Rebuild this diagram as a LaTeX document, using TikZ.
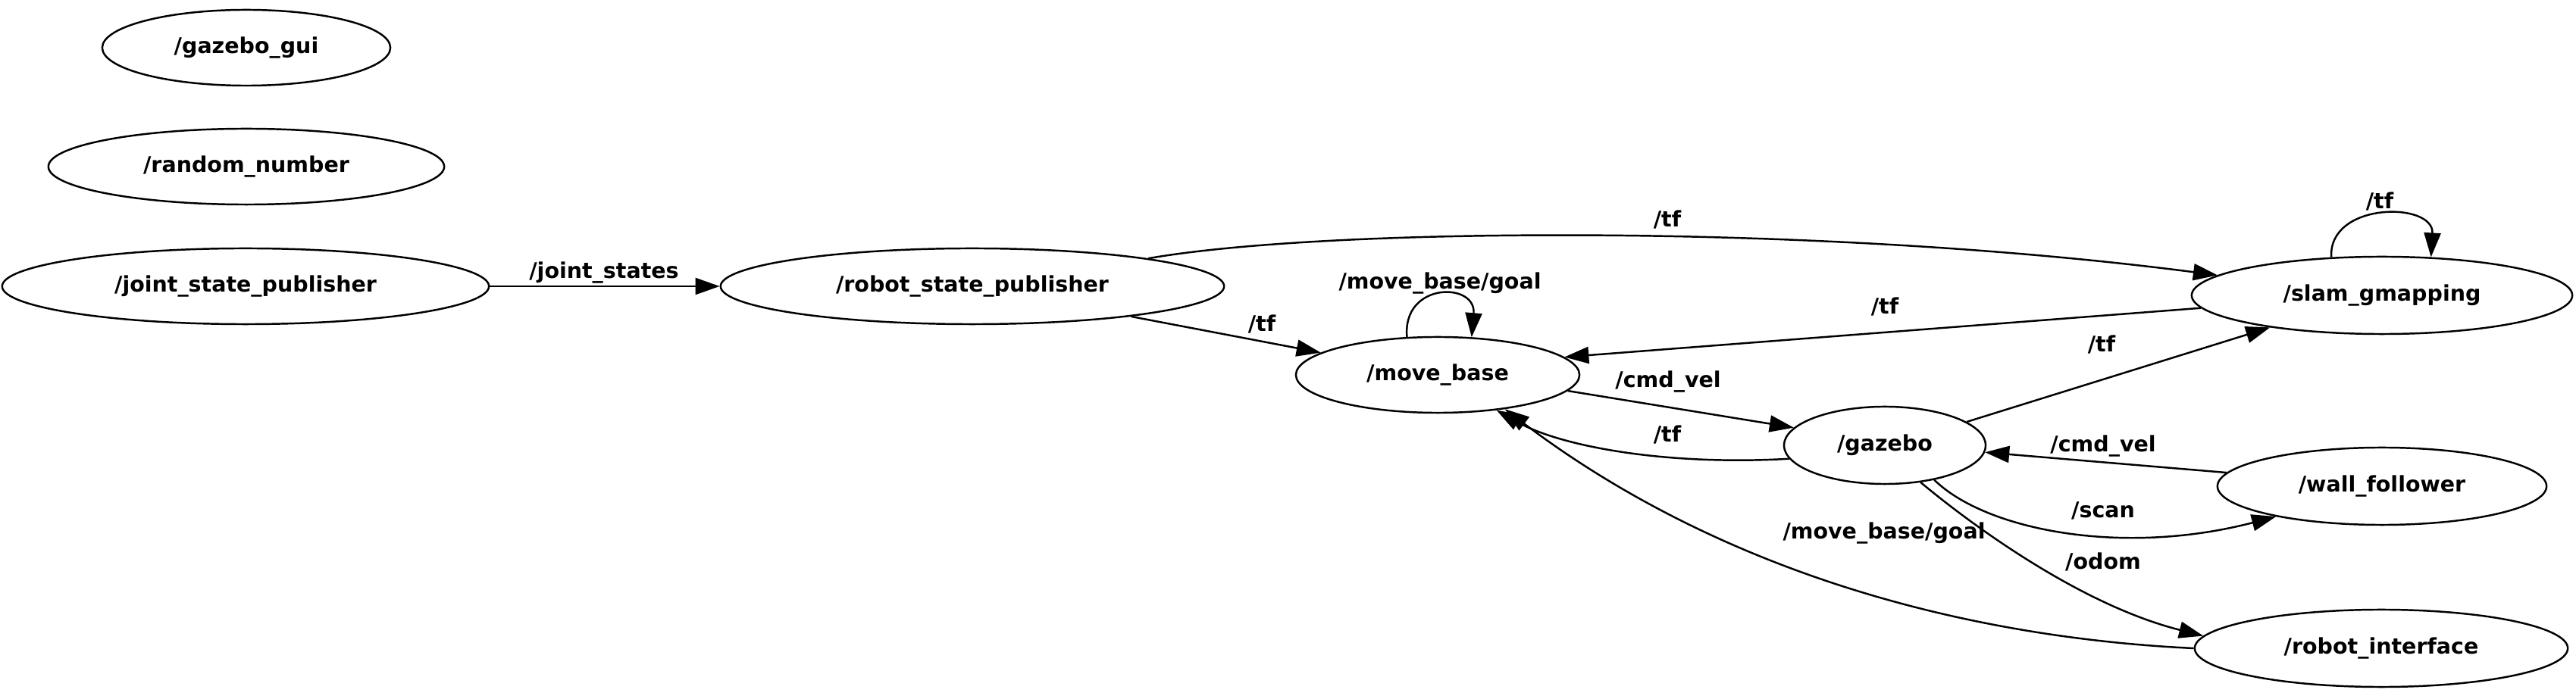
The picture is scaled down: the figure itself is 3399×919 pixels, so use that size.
\documentclass[tikz,border=0pt]{standalone}
\usepackage{fontspec}
\setmainfont{DejaVu Sans}
\usetikzlibrary{shapes.geometric,arrows.meta}
\begin{document}
\begin{tikzpicture}[x=0.01cm,y=-0.01cm,
  txt/.style={font=\fontsize{8.1pt}{9.7pt}\selectfont\bfseries},
  nd/.style={txt,draw,ellipse,inner sep=0pt,line width=0.7pt,minimum height=1.0cm},
  lbl/.style={txt,inner sep=0pt,anchor=base},
  conn/.style={line width=0.7pt,-{Triangle[length=0.32cm,width=0.22cm]}}]
\useasboundingbox (0,0) rectangle (3399,919);
% nodes
\node[nd,minimum width=3.80cm] (gui)  at (325,63)   {/gazebo\_gui};
\node[nd,minimum width=5.22cm] (rnd)  at (325,220)  {/random\_number};
\node[nd,minimum width=6.42cm] (jsp)  at (324,378)  {/joint\_state\_publisher};
\node[nd,minimum width=6.64cm] (rsp)  at (1283,378) {/robot\_state\_publisher};
\node[nd,minimum width=3.74cm] (mb)   at (1897,495) {/move\_base};
\node[nd,minimum width=5.02cm,minimum height=1.02cm] (slam) at (3143,390) {/slam\_gmapping};
\node[nd,minimum width=2.66cm,minimum height=1.02cm] (gaz)  at (2487,588) {/gazebo};
\node[nd,minimum width=4.34cm,minimum height=1.02cm] (wall) at (3143,642) {/wall\_follower};
\node[nd,minimum width=4.92cm,minimum height=1.02cm] (ri)   at (3142,856) {/robot\_interface};
% connectors
\draw[conn] (jsp) -- (rsp);
\draw[conn] (mb.129) .. controls (1850,372) and (1948,372) .. (mb.48);
\draw[conn] (rsp) -- (mb);
\draw[conn] (rsp.9) .. controls (1750,300) and (2400,295) .. (slam.173);
\draw[conn] (slam.143) .. controls (3072,266) and (3212,266) .. (slam.38);
\draw[conn] (slam.184) -- (mb.8);
\draw[conn] (mb.353) -- (gaz.169);
\draw[conn] (gaz.188) .. controls (2200,615) and (2060,590) .. (mb.329);
\draw[conn] (ri.180) .. controls (2560,840) and (2250,740) .. (mb.333);
\draw[conn] (gaz.16) -- (slam.196);
\draw[conn] (wall.175) -- (gaz.356);
\draw[conn] (gaz.325) .. controls (2620,700) and (2800,735) .. (wall.196);
\draw[conn] (gaz.314) .. controls (2610,700) and (2750,800) .. (ri.176);
% labels
\node[lbl] (l1)  at (797,368)  {/joint\_states};
\node[lbl] (l2)  at (1900,382) {/move\_base/goal};
\node[lbl] (l3)  at (1665,438) {/tf};
\node[lbl] (l4)  at (2200,300) {/tf};
\node[lbl] (l5)  at (3140,276) {/tf};
\node[lbl] (l6)  at (2487,415) {/tf};
\node[lbl] (l7)  at (2773,465) {/tf};
\node[lbl] (l8)  at (2201,512) {/cmd\_vel};
\node[lbl] (l9)  at (2200,584) {/tf};
\node[lbl] (l10) at (2775,597) {/cmd\_vel};
\node[lbl] (l11) at (2775,684) {/scan};
\node[lbl] (l12) at (2775,752) {/odom};
\node[lbl] (l13) at (2486,712) {/move\_base/goal};
\end{tikzpicture}
\end{document}
